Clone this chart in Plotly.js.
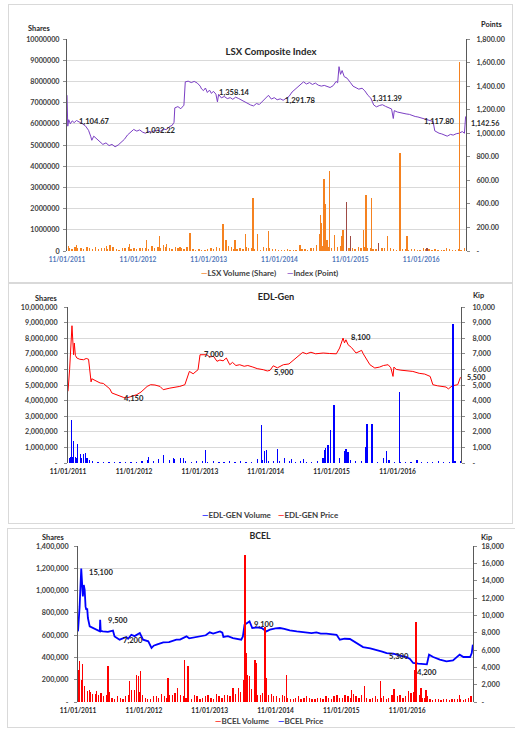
<!DOCTYPE html>
<html><head><meta charset="utf-8">
<script src="https://cdn.plot.ly/plotly-3.0.1.min.js"></script>
<style>
html,body{margin:0;padding:0;background:#fff;}
body{width:515px;height:729px;overflow:hidden;position:relative;}
.box{position:absolute;border:1px solid #d9d9d9;box-sizing:border-box;}
.plot{position:absolute;}
</style></head><body>
<div class="box" style="left:8px;top:4px;width:505px;height:279px"></div>
<div class="box" style="left:8px;top:283px;width:505px;height:241px"></div>
<div class="box" style="left:7px;top:528px;width:510px;height:200px"></div>
<div id="p1" class="plot"></div>
<div id="p2" class="plot"></div>
<div id="p3" class="plot"></div>
<script>
// ---------------- DATA ----------------
const yearTickDates = ['2011-11-01','2012-11-01','2013-11-01','2014-11-01','2015-11-01','2016-11-01'];
const yearTickText  = ['11/01/2011','11/01/2012','11/01/2013','11/01/2014','11/01/2015','11/01/2016'];

const noiseMonths = ['2011-11','2011-12',
 '2012-01','2012-02','2012-03','2012-04','2012-05','2012-06','2012-07','2012-08','2012-09','2012-10','2012-11','2012-12',
 '2013-01','2013-02','2013-03','2013-04','2013-05','2013-06','2013-07','2013-08','2013-09','2013-10','2013-11','2013-12',
 '2014-01','2014-02','2014-03','2014-04','2014-05','2014-06','2014-07','2014-08','2014-09','2014-10','2014-11','2014-12',
 '2015-01','2015-02','2015-03','2015-04','2015-05','2015-06','2015-07','2015-08','2015-09','2015-10','2015-11','2015-12',
 '2016-01','2016-02','2016-03','2016-04','2016-05','2016-06','2016-07','2016-08','2016-09','2016-10','2016-11','2016-12',
 '2017-01','2017-02','2017-03','2017-04','2017-05','2017-06','2017-07','2017-08','2017-09','2017-10'];

// LSX Composite Index
const lsxIndexDates = [
 '2011-11-01','2011-11-05','2011-11-10','2011-11-18','2011-11-28','2011-12-08','2011-12-20',
 '2012-01-05','2012-01-20','2012-02-05','2012-02-20','2012-03-02','2012-03-08','2012-03-18','2012-04-02','2012-04-18','2012-05-04','2012-05-20','2012-06-05','2012-06-20','2012-07-06','2012-07-22','2012-08-07','2012-08-23','2012-09-08','2012-09-24','2012-10-10','2012-10-26','2012-11-10','2012-11-26','2012-12-10','2012-12-26',
 '2013-01-10','2013-01-26','2013-02-10','2013-02-26','2013-03-12','2013-03-28','2013-04-12','2013-04-26','2013-05-06','2013-05-10','2013-05-26','2013-06-10','2013-06-26','2013-07-03','2013-07-18','2013-08-03','2013-08-18','2013-09-03','2013-09-18','2013-09-25','2013-10-05','2013-10-15','2013-10-25','2013-11-05','2013-11-15','2013-11-25','2013-12-08','2013-12-16','2013-12-22',
 '2014-01-05','2014-01-20','2014-02-05','2014-02-20','2014-03-05','2014-03-20','2014-04-05','2014-04-20','2014-05-05','2014-05-20','2014-06-05','2014-06-20','2014-07-05','2014-07-20','2014-08-05','2014-08-20','2014-09-05','2014-09-20','2014-10-05','2014-10-20','2014-11-05','2014-11-20','2014-12-05','2014-12-20',
 '2015-01-05','2015-01-20','2015-02-05','2015-02-20','2015-03-05','2015-03-20','2015-04-05','2015-04-20','2015-05-05','2015-05-20','2015-06-05','2015-06-20','2015-07-05','2015-07-20','2015-08-05','2015-08-20','2015-08-28','2015-09-04','2015-09-12','2015-09-20','2015-10-01','2015-10-15','2015-11-01','2015-11-15','2015-12-01','2015-12-15',
 '2016-01-01','2016-01-15','2016-02-01','2016-02-15','2016-03-01','2016-03-15','2016-04-01','2016-04-15','2016-05-01','2016-05-15','2016-06-01','2016-06-10','2016-06-15','2016-07-01','2016-07-15','2016-08-01','2016-08-15','2016-09-01','2016-09-15','2016-10-01','2016-10-15','2016-11-01','2016-11-15','2016-12-01','2016-12-15',
 '2017-01-01','2017-01-10','2017-01-20','2017-02-01','2017-02-15','2017-03-01','2017-03-15','2017-04-01','2017-04-15','2017-05-01','2017-05-15','2017-06-01','2017-06-12','2017-06-18'];
const lsxIndexValues = [
 1323,1060,1115,1080,1105,1090,1108,
 1095,1080,1060,1025,975,940,975,950,925,905,918,895,905,885,900,920,948,985,1010,1032,1018,1028,1008,1000,1016,
 1010,1022,1026,1018,1036,1030,1056,1066,1092,1215,1226,1208,1238,1436,1442,1430,1440,1426,1400,1376,1362,1384,1346,1366,1338,1356,1332,1266,1330,
 1300,1312,1294,1302,1288,1306,1294,1280,1262,1250,1240,1232,1252,1244,1272,1300,1322,1290,1302,1284,1292,1280,1296,1312,
 1350,1372,1402,1420,1436,1418,1430,1414,1426,1408,1400,1406,1394,1388,1404,1440,1428,1565,1500,1532,1480,1468,1432,1400,1386,1374,
 1382,1360,1320,1298,1240,1224,1236,1242,1228,1220,1206,1125,1192,1180,1174,1170,1164,1160,1150,1142,1138,1130,1124,1116,1110,
 1100,1020,1010,1000,994,985,975,990,984,996,1000,1014,1000,1142.56];

const lsxNoiseValues = [150000,200000,
 120000,180000,90000,110000,140000,260000,90000,120000,200000,150000,130000,160000,
 220000,180000,260000,150000,200000,120000,180000,100000,90000,60000,150000,200000,
 90000,250000,110000,130000,180000,120000,90000,200000,150000,80000,70000,90000,
 60000,120000,80000,150000,300000,250000,180000,300000,220000,160000,120000,200000,
 180000,150000,110000,160000,200000,90000,120000,80000,100000,70000,150000,90000,
 80000,60000,120000,70000,90000,150000];
const lsxNoiseValues2 = [100000,150000,
 80000,120000,60000,140000,90000,180000,70000,160000,110000,90000,150000,100000,
 140000,120000,200000,90000,150000,80000,120000,70000,60000,90000,100000,130000,
 70000,180000,90000,100000,120000,90000,70000,150000,100000,60000,50000,70000,
 50000,90000,60000,120000,250000,200000,150000,200000,150000,120000,90000,150000,
 120000,100000,80000,120000,150000,70000,90000,60000,80000,50000,100000,70000,
 60000,50000,90000,50000,70000];
const lsxSpikeDates = ['2011-11-08','2011-12-20','2012-03-27','2012-05-23','2012-06-09','2012-09-18','2012-12-16','2013-02-19','2013-03-28','2013-06-05','2013-07-27',
 '2014-01-13','2014-01-30','2014-03-16','2014-05-10','2014-06-18','2014-07-10','2014-09-04','2015-02-15','2015-05-28','2015-06-02','2015-06-06','2015-06-18','2015-06-27','2015-07-04','2015-07-18','2015-08-12','2015-09-20','2015-09-25',
 '2016-01-07','2016-01-21','2016-02-19','2016-05-12','2016-07-14','2016-08-19','2017-05-16'];
const lsxSpikeValues = [250000,300000,200000,250000,300000,350000,500000,700000,350000,200000,850000,
 1290000,500000,500000,800000,2500000,800000,950000,300000,800000,1700000,1300000,3420000,2200000,500000,3780000,750000,700000,1000000,
 1000000,2630000,2500000,700000,4600000,700000,8930000];
const lsxAltDates = ['2015-10-13','2015-11-01','2016-03-25','2016-12-01'];
const lsxAltValues = [2290000,700000,400000,150000];

const lsxLabelDates  = ['2011-12-22','2012-11-28','2013-12-12','2014-11-19','2016-02-12','2016-11-04','2017-06-18'];
const lsxLabelValues = [1105,1025,1351,1281,1300,1105,1085];
const lsxLabelTexts  = ['1,104.67','1,032.22','1,358.14','1,291.78','1,311.39','1,117.80','1,142.56'];

const lsxLeftTicks = [0,1000000,2000000,3000000,4000000,5000000,6000000,7000000,8000000,9000000,10000000];
const lsxLeftText  = ['0','1000000','2000000','3000000','4000000','5000000','6000000','7000000','8000000','9000000','10000000'];
const lsxRightTicks = [0,200,400,600,800,1000,1200,1400,1600,1800];
const lsxRightText  = ['-','200.00','400.00','600.00','800.00','1,000.00','1,200.00','1,400.00','1,600.00','1,800.00'];

// EDL-Gen
const edlPriceDates = [
 '2011-11-01','2011-11-10','2011-11-23','2011-11-28','2011-12-02','2011-12-06','2011-12-12','2011-12-20',
 '2012-01-05','2012-01-26','2012-02-10','2012-02-23','2012-03-03','2012-03-08','2012-03-12','2012-03-30','2012-04-15','2012-04-27','2012-05-15','2012-06-03','2012-06-20','2012-07-01','2012-07-20','2012-08-16','2012-09-05','2012-09-22','2012-10-15','2012-11-16','2012-12-10',
 '2013-01-13','2013-02-01','2013-02-25','2013-03-25','2013-04-12','2013-05-19','2013-06-15','2013-07-13','2013-08-10','2013-09-04','2013-09-25','2013-10-22','2013-11-02','2013-11-20','2013-12-10','2013-12-25',
 '2014-01-16','2014-02-04','2014-02-20','2014-03-10','2014-03-28','2014-04-16','2014-05-01','2014-05-20','2014-06-10','2014-07-05','2014-07-25','2014-08-22','2014-09-15','2014-10-19','2014-11-10','2014-11-25','2014-12-13',
 '2015-01-05','2015-02-07','2015-03-10','2015-04-19','2015-05-25','2015-06-15','2015-07-10','2015-08-05','2015-09-16','2015-10-20','2015-11-28','2015-12-16',
 '2016-01-04','2016-01-12','2016-01-20','2016-02-01','2016-02-20','2016-03-16','2016-04-16','2016-04-25','2016-05-10','2016-06-01','2016-06-28','2016-07-25','2016-08-15','2016-09-10','2016-09-25','2016-10-07','2016-10-12','2016-10-25','2016-11-20','2016-12-20',
 '2017-01-25','2017-03-01','2017-04-01','2017-05-01','2017-05-16','2017-06-10','2017-07-01','2017-07-28','2017-08-10','2017-09-01','2017-10-01','2017-10-16'];
const edlPriceValues = [
 4600,6000,8800,7500,6940,7690,6900,6730,
 6650,6620,6700,6650,5550,5200,5400,5300,5250,5130,5100,4910,4750,4490,4400,4270,4200,4170,4250,4380,4550,
 4910,5020,5000,4910,4700,4800,4850,4910,5020,5870,5720,5980,6940,6960,6940,6800,
 6840,6520,6600,6550,6730,6300,6450,6250,6300,6200,6250,6150,6050,5980,5900,5940,6230,
 6100,6300,6350,6730,7090,7000,7100,7000,7050,7020,7000,7370,
 8010,7700,7900,7580,7400,7050,7220,7000,6700,6300,6090,6150,6250,6300,6100,5550,6150,6000,5950,5900,
 5870,5750,5700,5550,5020,4950,4900,4870,4750,4950,5020,5500];

const edlNoiseValues = [400000,300000,
 250000,200000,100000,80000,60000,50000,80000,60000,50000,90000,60000,120000,
 200000,150000,250000,180000,200000,250000,300000,150000,80000,100000,120000,90000,
 100000,80000,60000,120000,80000,100000,60000,90000,250000,200000,150000,100000,
 120000,300000,150000,80000,100000,60000,80000,120000,300000,400000,200000,300000,
 250000,200000,150000,100000,150000,120000,80000,300000,200000,60000,80000,50000,
 60000,200000,40000,50000,60000,100000,80000,60000,150000,100000];
const edlSpikeDates = ['2011-11-10','2011-11-19','2011-11-25','2011-12-02','2011-12-12','2011-12-24','2012-01-08','2012-01-15','2012-01-26','2012-02-05','2012-02-15','2012-03-01',
 '2013-01-20','2013-04-12','2013-06-06','2013-08-01','2013-12-01','2014-10-10','2014-10-25','2014-11-06','2015-01-04','2015-03-25','2015-05-30',
 '2015-09-24','2015-09-30','2015-10-12','2015-10-27','2015-11-15','2016-01-12','2016-01-20','2016-02-01','2016-05-06','2016-05-16','2016-06-13','2016-09-01','2016-11-10','2017-02-21','2017-09-04'];
const edlSpikeValues = [350000,2780000,400000,1400000,400000,1200000,600000,350000,600000,650000,300000,200000,
 400000,500000,300000,350000,850000,2460000,800000,850000,920000,250000,250000,
 850000,950000,1150000,2140000,3740000,750000,900000,700000,1000000,2530000,2530000,750000,4550000,200000,8930000];

const edlLabelDates  = ['2012-08-25','2013-11-13','2014-12-04','2016-02-07','2017-10-16'];
const edlLabelValues = [4167,6960,5810,8080,5490];
const edlLabelTexts  = ['4,150','7,000','5,900','8,100','5,500'];

const edlLeftTicks = [0,1000000,2000000,3000000,4000000,5000000,6000000,7000000,8000000,9000000,10000000];
const edlLeftText  = ['-','1,000,000','2,000,000','3,000,000','4,000,000','5,000,000','6,000,000','7,000,000','8,000,000','9,000,000','10,000,000'];
const edlRightTicks = [0,1000,2000,3000,4000,5000,6000,7000,8000,9000,10000];
const edlRightText  = ['-','1,000','2,000','3,000','4,000','5,000','6,000','7,000','8,000','9,000','10,000'];

// BCEL
const bcelPriceDates = [
 '2011-11-01','2011-11-10','2011-11-19','2011-11-24','2011-11-28','2011-12-03','2011-12-08','2011-12-13','2011-12-17','2011-12-22','2011-12-26',
 '2012-01-05','2012-01-23','2012-02-11','2012-03-01','2012-03-03','2012-03-06','2012-03-18','2012-04-15','2012-05-13','2012-05-22','2012-06-19','2012-07-10','2012-07-26','2012-08-05','2012-08-23','2012-09-10','2012-10-09','2012-10-27','2012-11-25','2012-12-13','2012-12-25',
 '2013-01-10','2013-02-16','2013-03-20','2013-04-30','2013-05-20','2013-06-25','2013-07-10','2013-08-19','2013-09-20','2013-10-10','2013-11-01','2013-11-20','2013-12-28',
 '2014-01-10','2014-01-16','2014-02-10','2014-03-10','2014-04-10','2014-04-25','2014-05-04','2014-05-13','2014-06-10','2014-06-25','2014-07-20','2014-08-16','2014-09-12','2014-10-01','2014-11-01','2014-11-25','2014-12-20',
 '2015-01-19','2015-02-27','2015-03-25','2015-04-22','2015-05-20','2015-06-16','2015-07-10','2015-08-10','2015-09-10','2015-10-06','2015-10-24','2015-11-20','2015-12-19',
 '2016-01-25','2016-03-01','2016-04-10','2016-05-16','2016-06-15','2016-07-10','2016-08-16','2016-09-22','2016-10-28','2016-11-16','2016-12-04',
 '2017-01-01','2017-02-18','2017-03-02','2017-03-25','2017-05-01','2017-06-07','2017-07-13','2017-08-19','2017-09-09','2017-10-16','2017-10-25','2017-10-31'];
const bcelPriceValues = [
 8150,11000,15400,13000,12180,13500,12950,11000,10650,10800,9690,
 8730,8540,8340,8150,9500,8200,8150,8100,8230,7570,7190,7400,7500,7300,7760,7600,7960,7190,7000,6230,6500,
 6610,6880,6900,7190,7200,7570,7350,7500,7600,7700,8040,7900,8150,
 8000,7500,7600,7380,7300,7190,7570,8920,9300,8540,8600,8540,8150,8340,8500,8540,8450,
 8270,8150,8100,7960,7950,8040,7900,7880,7800,7760,7190,7300,7270,
 6800,6340,6200,6030,5800,5650,5570,5340,5190,4960,4500,
 4420,4340,5460,5190,4900,4690,4800,5460,5190,5190,5650,6610];

const bcelNoiseA = [250000,120000,
 90000,70000,80000,60000,40000,50000,30000,60000,110000,90000,40000,30000,
 50000,70000,40000,60000,130000,50000,40000,60000,30000,50000,40000,70000,
 40000,60000,90000,130000,200000,170000,90000,60000,150000,70000,50000,60000,
 40000,30000,50000,40000,35000,30000,40000,50000,30000,60000,40000,50000,
 70000,40000,60000,30000,50000,40000,30000,60000,50000,40000,100000,90000,
 60000,40000,30000,30000,20000,30000,25000,30000,20000,40000];
const bcelNoiseB = [180000,100000,
 70000,60000,50000,90000,30000,40000,50000,40000,70000,60000,30000,50000,
 40000,50000,60000,80000,60000,40000,30000,50000,40000,60000,30000,50000,
 60000,50000,70000,90000,150000,120000,60000,80000,60000,50000,40000,50000,
 30000,40000,30000,50000,30000,40000,30000,40000,50000,40000,60000,40000,
 50000,60000,40000,40000,30000,50000,40000,40000,60000,50000,80000,60000,
 40000,50000,20000,25000,30000,20000,30000,25000,30000,50000];
const bcelSpikeDates = ['2011-11-03','2011-11-10','2011-11-19','2011-11-25','2011-12-07','2012-01-04','2012-02-11','2012-04-15','2012-08-14','2012-08-23','2012-09-21','2012-09-30','2012-10-13',
 '2013-03-14','2013-06-15','2013-07-04','2014-03-10','2014-05-16','2014-05-21','2014-05-31','2014-06-08','2014-07-10','2014-07-19','2014-09-03','2014-09-12','2015-01-01',
 '2015-12-28','2016-03-10','2016-06-04','2016-08-20','2016-12-10','2016-12-19','2016-12-22','2017-01-16','2017-02-13','2017-08-20','2017-10-20'];
const bcelSpikeValues = [290000,365000,200000,340000,140000,110000,95000,320000,185000,110000,245000,230000,275000,
 215000,380000,320000,130000,1320000,440000,240000,230000,380000,350000,670000,215000,245000,
 110000,145000,185000,120000,290000,720000,175000,130000,110000,60000,50000];

const bcelLabelDates  = ['2011-12-20','2012-04-02','2012-06-28','2014-06-25','2016-07-10','2016-12-14'];
const bcelLabelValues = [15000,9500,7190,9030,5260,3460];
const bcelLabelTexts  = ['15,100','9,500','7,200','9,100','5,300','4,200'];

const bcelLeftTicks = [0,200000,400000,600000,800000,1000000,1200000,1400000];
const bcelLeftText  = ['-','200,000','400,000','600,000','800,000','1,000,000','1,200,000','1,400,000'];
const bcelRightTicks = [0,2000,4000,6000,8000,10000,12000,14000,16000,18000];
const bcelRightText  = ['-','2,000','4,000','6,000','8,000','10,000','12,000','14,000','16,000','18,000'];

// ---------------- DRAWING ----------------
const FONT = 'Lato, "Open Sans", "DejaVu Sans", sans-serif';
const DAY = 86400000;

function pX(g, px){ return (px - g.left - g.l) / (g.w - g.l - g.r); }
function pY(g, py){ return 1 - (py - g.top - g.t) / (g.h - g.t - g.b); }

function axisY(ticks, text, side, standoff, extra){
  return Object.assign({
    side: side, range: [ticks[0], ticks[ticks.length-1]], autorange: false,
    tickmode: 'array', tickvals: ticks, ticktext: text,
    showgrid: false, zeroline: false, showline: true, linecolor: '#595959', linewidth: 1,
    ticks: 'outside', ticklen: 3, tickcolor: '#8c8c8c', tickwidth: 1, ticklabelstandoff: standoff,
    tickfont: {family: FONT, size: 7.2, color: '#404040', weight: 700},
    fixedrange: true
  }, extra || {});
}

function build(divId, g, cfg){
  const div = document.getElementById(divId);
  div.style.left = g.left + 'px'; div.style.top = g.top + 'px';
  div.style.width = g.w + 'px'; div.style.height = g.h + 'px';

  const ann = [];
  cfg.labels.dates.forEach((d, i) => {
    const last = (i === cfg.labels.dates.length - 1);
    ann.push({xref: 'x', yref: 'y', x: d, y: cfg.labels.values[i], text: cfg.labels.texts[i],
      showarrow: false, xanchor: 'left', yanchor: 'middle', xshift: (last && cfg.lastShift) ? cfg.lastShift : 0,
      font: {family: FONT, size: (last && cfg.lastShift) ? 7.2 : 7.6, color: '#262626', weight: 700}});
  });
  cfg.axisTitles.forEach(a => {
    ann.push({xref: 'paper', yref: 'paper', x: pX(g, a[1]), y: pY(g, a[2]), text: a[0], showarrow: false,
      xanchor: 'center', yanchor: 'middle', font: {family: FONT, size: 7.4, color: '#262626', weight: 700}});
  });
  cfg.legend.forEach(it => {
    ann.push({xref: 'paper', yref: 'paper', x: pX(g, it.x), y: pY(g, it.y), showarrow: false,
      xanchor: 'left', yanchor: 'middle',
      text: '<span style="color:' + it.color + '">—</span>' + it.text,
      font: {family: FONT, size: 8, color: '#404040', weight: 700}});
  });

  const layout = {
    width: g.w, height: g.h,
    margin: {l: g.l, r: g.r, t: g.t, b: g.b, pad: 0},
    paper_bgcolor: 'rgba(0,0,0,0)', plot_bgcolor: 'rgba(0,0,0,0)',
    showlegend: false, barmode: 'overlay', bargap: 0,
    title: {text: cfg.title, font: {family: FONT, size: cfg.titleSize, color: '#262626', weight: 700},
      xref: 'container', yref: 'container', x: (cfg.titlePos[0] - g.left) / g.w, y: 1 - (cfg.titlePos[1] - g.top) / g.h,
      xanchor: 'center', yanchor: 'middle'},
    xaxis: {type: 'date', range: cfg.xRange, autorange: false, tickmode: 'array', tickvals: yearTickDates, ticktext: yearTickText,
      showgrid: false, zeroline: false, showline: false, ticks: '', fixedrange: true, ticklabelstandoff: cfg.xStandoff,
      tickfont: {family: FONT, size: 6.6, color: cfg.xTickColor, weight: 700}},
    yaxis: axisY(cfg.rightTicks, cfg.rightText, 'right', cfg.rightStandoff),
    yaxis2: axisY(cfg.leftTicks, cfg.leftText, 'left', cfg.leftStandoff, {overlaying: 'y', showgrid: true, gridcolor: '#d9d9d9', gridwidth: 1}),
    annotations: ann
  };
  Plotly.newPlot(div, cfg.traces, layout, {staticPlot: true, displayModeBar: false});
}

const BARW = 7 * DAY;

// Panel 1: LSX
const G1 = {left: 8, top: 4, w: 504, h: 278, l: 59, r: 46, t: 35, b: 31};
build('p1', G1, {
  title: 'LSX Composite Index', titleSize: 9.6, titlePos: [271, 52],
  xRange: ['2011-11-01', '2017-06-20'], xTickColor: '#4f75b8', xStandoff: 3, leftStandoff: 2, rightStandoff: 5,
  leftTicks: lsxLeftTicks, leftText: lsxLeftText, rightTicks: lsxRightTicks, rightText: lsxRightText,
  labels: {dates: lsxLabelDates, values: lsxLabelValues, texts: lsxLabelTexts}, lastShift: 3,
  axisTitles: [['Shares', 39, 29], ['Points', 491, 25]],
  legend: [{x: 199, y: 273, color: '#F58220', text: 'LSX Volume (Share)'}, {x: 285, y: 273, color: '#7B3FC4', text: 'Index (Point)'}],
  traces: [
    {type: 'scatter', mode: 'lines', name: 'Index (Point)', x: lsxIndexDates, y: lsxIndexValues, yaxis: 'y', line: {color: '#7B3FC4', width: 1}},
    {type: 'bar', name: 'LSX Volume (Share)', x: noiseMonths.map(m => m + '-12'), y: lsxNoiseValues, yaxis: 'y2', width: BARW, marker: {color: '#F58220', line: {width: 0}}},
    {type: 'bar', name: 'LSX Volume (Share)', x: noiseMonths.map(m => m + '-26'), y: lsxNoiseValues2, yaxis: 'y2', width: BARW, marker: {color: '#F58220', line: {width: 0}}},
    {type: 'bar', name: 'LSX Volume (Share)', x: lsxSpikeDates, y: lsxSpikeValues, yaxis: 'y2', width: BARW, marker: {color: '#F58220', line: {width: 0}}},
    {type: 'bar', name: 'LSX Volume (Share)', x: lsxAltDates, y: lsxAltValues, yaxis: 'y2', width: BARW, marker: {color: '#9E4B45', line: {width: 0}}}
  ]
});

// Panel 2: EDL-Gen
const G2 = {left: 8, top: 283, w: 504, h: 240, l: 60, r: 51, t: 24, b: 60};
build('p2', G2, {
  title: 'EDL-Gen', titleSize: 9.2, titlePos: [276, 297],
  xRange: ['2011-11-01', '2017-10-19'], xTickColor: '#262626', xStandoff: 3, leftStandoff: 5, rightStandoff: 6,
  leftTicks: edlLeftTicks, leftText: edlLeftText, rightTicks: edlRightTicks, rightText: edlRightText,
  labels: {dates: edlLabelDates, values: edlLabelValues, texts: edlLabelTexts}, lastShift: 5,
  axisTitles: [['Shares', 46, 299], ['Kip', 478, 295]],
  legend: [{x: 200, y: 515, color: '#0000FF', text: 'EDL-GEN Volume'}, {x: 276, y: 515, color: '#FF0000', text: 'EDL-GEN Price'}],
  traces: [
    {type: 'scatter', mode: 'lines', name: 'EDL-GEN Price', x: edlPriceDates, y: edlPriceValues, yaxis: 'y', line: {color: '#FF0000', width: 1}},
    {type: 'bar', name: 'EDL-GEN Volume', x: noiseMonths.map(m => m + '-15'), y: edlNoiseValues, yaxis: 'y2', width: BARW, marker: {color: '#0000FF', line: {width: 0}}},
    {type: 'bar', name: 'EDL-GEN Volume', x: edlSpikeDates, y: edlSpikeValues, yaxis: 'y2', width: BARW, marker: {color: '#0000FF', line: {width: 0}}}
  ]
});

// Panel 3: BCEL
const G3 = {left: 7, top: 528, w: 508, h: 200, l: 71, r: 42, t: 18, b: 26};
build('p3', G3, {
  title: 'BCEL', titleSize: 8.8, titlePos: [260, 536],
  xRange: ['2011-11-01', '2017-11-01'], xTickColor: '#262626', xStandoff: 3, leftStandoff: 4, rightStandoff: 3,
  leftTicks: bcelLeftTicks, leftText: bcelLeftText, rightTicks: bcelRightTicks, rightText: bcelRightText,
  labels: {dates: bcelLabelDates, values: bcelLabelValues, texts: bcelLabelTexts}, lastShift: 0,
  axisTitles: [['Shares', 53, 538], ['Kip', 486, 538]],
  legend: [{x: 213, y: 721, color: '#FF0000', text: 'BCEL Volume'}, {x: 276, y: 721, color: '#0000FF', text: 'BCEL Price'}],
  traces: [
    {type: 'scatter', mode: 'lines', name: 'BCEL Price', x: bcelPriceDates, y: bcelPriceValues, yaxis: 'y', line: {color: '#0000FF', width: 1.8}},
    {type: 'bar', name: 'BCEL Volume', x: noiseMonths.map(m => m + '-08'), y: bcelNoiseA, yaxis: 'y2', width: BARW, marker: {color: '#FF0000', line: {width: 0}}},
    {type: 'bar', name: 'BCEL Volume', x: noiseMonths.map(m => m + '-22'), y: bcelNoiseB, yaxis: 'y2', width: BARW, marker: {color: '#FF0000', line: {width: 0}}},
    {type: 'bar', name: 'BCEL Volume', x: bcelSpikeDates, y: bcelSpikeValues, yaxis: 'y2', width: BARW, marker: {color: '#FF0000', line: {width: 0}}}
  ]
});
</script>
</body></html>
